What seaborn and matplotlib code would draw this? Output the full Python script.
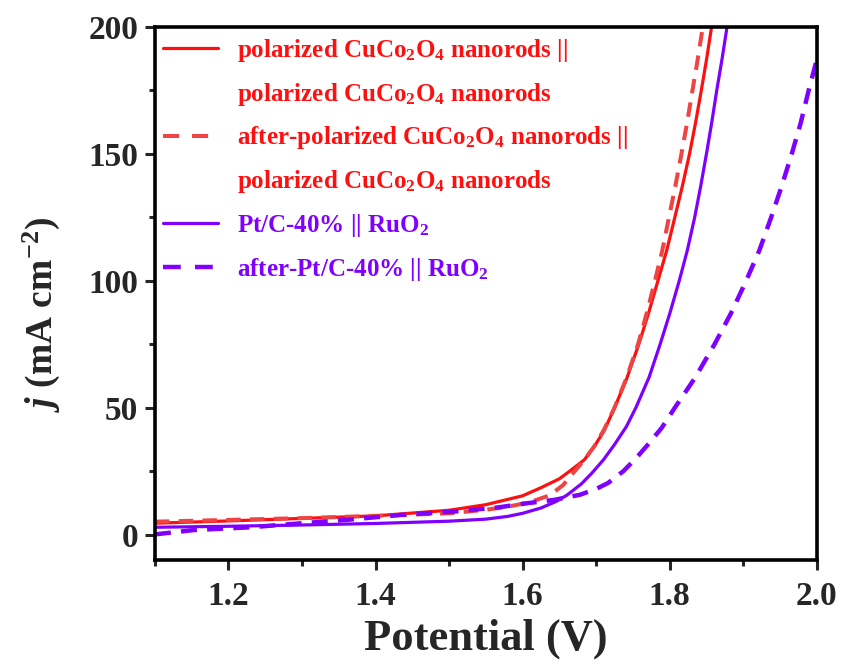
import numpy as np
import pandas as pd
import matplotlib
matplotlib.use("Agg")
import matplotlib.pyplot as plt
from matplotlib.lines import Line2D
from matplotlib.ticker import MultipleLocator
import seaborn as sns

# ---- data ----
red_solid_x = [1.10, 1.20, 1.30, 1.40, 1.50, 1.55, 1.60, 1.625, 1.65, 1.664, 1.684, 1.698, 1.711, 1.725,
               1.741, 1.758, 1.771, 1.784, 1.796, 1.807, 1.817, 1.827, 1.835, 1.843, 1.850, 1.857]
red_solid_y = [4.5, 5.4, 6.4, 7.4, 9.6, 11.8, 15.3, 18.5, 22.0, 25.0, 29.5, 35.0, 41.0, 50.0,
               61.0, 75.0, 87.0, 100.0, 112.0, 125.0, 137.0, 150.0, 162.0, 175.0, 187.0, 200.0]

red_dash_x = [1.10, 1.20, 1.30, 1.40, 1.50, 1.55, 1.58, 1.61, 1.637, 1.655, 1.668, 1.684, 1.698, 1.711,
              1.725, 1.741, 1.757, 1.7695, 1.780, 1.790, 1.799, 1.8075, 1.816, 1.8235, 1.831, 1.838, 1.845]
red_dash_y = [5.1, 5.8, 6.5, 7.4, 8.4, 9.8, 11.0, 12.8, 15.5, 19.5, 24.0, 29.5, 35.0, 41.5,
              50.0, 61.5, 75.0, 88.0, 100.0, 112.0, 125.0, 137.0, 150.0, 162.0, 175.0, 187.0, 200.0]

pt_solid_x = [1.10, 1.20, 1.30, 1.40, 1.50, 1.55, 1.58, 1.60, 1.625, 1.645, 1.66, 1.68, 1.695, 1.710,
              1.725, 1.741, 1.754, 1.772, 1.787, 1.800, 1.813, 1.824, 1.834, 1.842, 1.850, 1.857,
              1.864, 1.871, 1.878]
pt_solid_y = [2.9, 3.3, 3.8, 4.4, 5.3, 6.1, 7.2, 8.4, 10.5, 13.0, 15.5, 20.0, 24.5, 29.5,
              35.5, 42.5, 50.0, 62.0, 75.0, 87.0, 100.0, 112.0, 125.0, 137.0, 150.0, 162.0,
              175.0, 187.0, 200.0]

pt_dash_x = [1.10, 1.153, 1.23, 1.30, 1.36, 1.436, 1.507, 1.566, 1.607, 1.643, 1.678, 1.700, 1.716,
             1.737, 1.754, 1.769, 1.789, 1.807, 1.835, 1.861, 1.883, 1.904, 1.922, 1.938, 1.952,
             1.966, 1.978, 1.989, 1.999]
pt_dash_y = [0.1, 1.8, 2.9, 4.5, 5.8, 7.8, 9.1, 10.7, 12.4, 13.7, 15.7, 18.0, 20.3,
             25.0, 30.0, 35.0, 42.0, 50.0, 62.0, 75.0, 87.0, 100.0, 112.0, 125.0, 137.0,
             150.0, 162.0, 175.0, 186.0]

x_ticks = [1.2, 1.4, 1.6, 1.8, 2.0]
x_tick_labels = ["1.2", "1.4", "1.6", "1.8", "2.0"]

labels = [
    ["polarized CuCo$_\\mathregular{2}$O$_\\mathregular{4}$ nanorods ||",
     "polarized CuCo$_\\mathregular{2}$O$_\\mathregular{4}$ nanorods"],
    ["after-polarized CuCo$_\\mathregular{2}$O$_\\mathregular{4}$ nanorods ||",
     "polarized CuCo$_\\mathregular{2}$O$_\\mathregular{4}$ nanorods"],
    ["Pt/C-40% || RuO$_\\mathregular{2}$"],
    ["after-Pt/C-40% || RuO$_\\mathregular{2}$"],
]

RED = "#FF1010"
RED2 = "#F04444"
PURPLE = "#7F00FF"

sns.set_style("white")
plt.rcParams["font.family"] = ["Liberation Serif", "DejaVu Serif"]
plt.rcParams["font.weight"] = "bold"
plt.rcParams["mathtext.fontset"] = "custom"
plt.rcParams["mathtext.rm"] = "Liberation Serif:bold"
plt.rcParams["mathtext.it"] = "Liberation Serif:italic:bold"
plt.rcParams["mathtext.bf"] = "Liberation Serif:bold"

fig = plt.figure(figsize=(8.42, 6.67), dpi=100)
ax = fig.add_axes([0.184, 0.1604, 0.786, 0.7991])

series = [
    (red_solid_x, red_solid_y, RED, "-", 2.3),
    (red_dash_x, red_dash_y, RED2, (0, (3.6, 2.3)), 2.9),
    (pt_solid_x, pt_solid_y, PURPLE, "-", 2.3),
    (pt_dash_x, pt_dash_y, PURPLE, (0, (3.6, 2.3)), 3.2),
]
for xs, ys, c, ls, lw in series:
    df = pd.DataFrame({"x": xs, "y": ys})
    sns.lineplot(data=df, x="x", y="y", ax=ax, color=c, linestyle=ls, linewidth=lw,
                 sort=False, legend=False)

ax.set_xlim(1.1, 2.0)
ax.set_ylim(-10, 200)
ax.xaxis.set_minor_locator(MultipleLocator(0.1))
ax.yaxis.set_major_locator(MultipleLocator(50))
ax.yaxis.set_minor_locator(MultipleLocator(25))
ax.set_xticks(x_ticks)
ax.set_xticklabels(x_tick_labels)
ax.tick_params(axis="x", which="major", pad=8)
ax.tick_params(axis="y", which="major", pad=5)
ax.tick_params(axis="both", which="major", direction="out", length=7, width=2.2,
               labelsize=24, bottom=True, left=True, top=False, right=False)
ax.tick_params(axis="both", which="minor", direction="out", length=4, width=2.2,
               bottom=True, left=True, top=False, right=False)
for lab in ax.get_xticklabels() + ax.get_yticklabels():
    lab.set_fontweight("bold")
for sp in ax.spines.values():
    sp.set_linewidth(2.6)
    sp.set_color("black")
ax.grid(False)

ax.set_xlabel("Potential (V)", fontsize=32, fontweight="bold", labelpad=5)
ax.set_ylabel("$j$ (mA cm$^{\\mathregular{-2}}$)", fontsize=27, fontweight="bold")
ax.yaxis.set_label_coords(-0.140, 0.46)

# legend, one row per text line
handles, texts, colors = [], [], []
styles = [(RED, "-", 2.3), (RED2, (0, (4.0, 3.2)), 2.9), (PURPLE, "-", 2.3), (PURPLE, (0, (4.0, 3.2)), 3.2)]
for (c, ls, lw), lab in zip(styles, labels):
    for i, line in enumerate(lab):
        if i == 0:
            handles.append(Line2D([], [], color=c, linestyle=ls, linewidth=lw))
        else:
            handles.append(Line2D([], [], color="none"))
        texts.append(line)
        colors.append(c if c != RED2 else RED)
leg = ax.legend(handles, texts, loc="upper left", bbox_to_anchor=(-0.006, 1.005), frameon=False,
                handlelength=2.2, handletextpad=0.75, labelspacing=0.67,
                borderaxespad=0.1, labelcolor=colors, prop={"weight": "bold", "size": 18})

fig.savefig("out.png", dpi=100)
